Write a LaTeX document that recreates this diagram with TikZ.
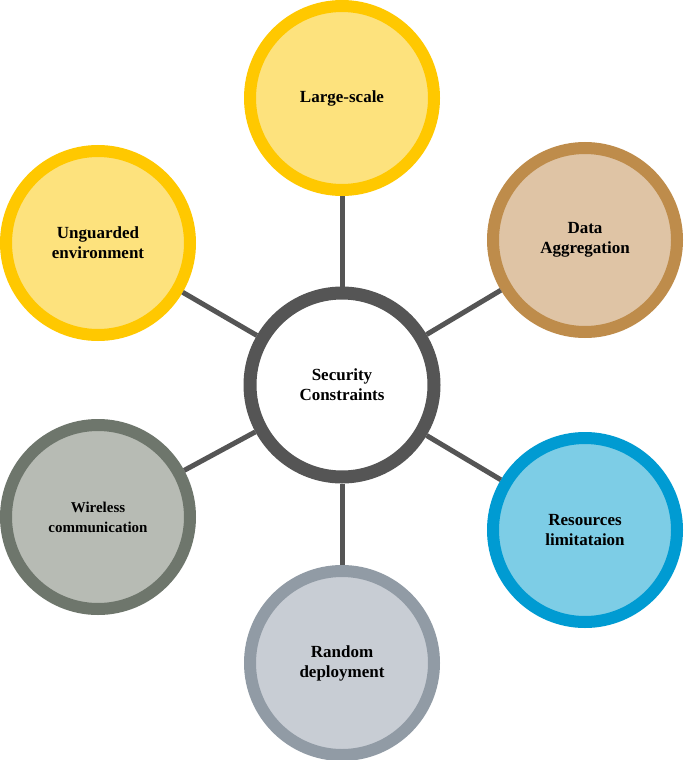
\documentclass[tikz,border=0pt]{standalone}
\usepackage{fontspec}
\setmainfont{Liberation Serif}
\begin{document}
\begin{tikzpicture}[x=1pt,y=-1pt,
  bub/.style={circle,minimum size=184pt,line width=12pt,inner sep=0pt,align=center,font=\bfseries\fontsize{17}{20}\selectfont},
  link/.style={line width=5pt,draw={rgb,255:red,85;green,85;blue,85}}]
\useasboundingbox (0,0) rectangle (685,760);
\definecolor{yf}{RGB}{253,226,125}\definecolor{yb}{RGB}{255,200,0}
\definecolor{tf}{RGB}{223,196,165}\definecolor{tb}{RGB}{190,140,75}
\definecolor{bf}{RGB}{125,205,230}\definecolor{bb}{RGB}{0,155,210}
\definecolor{gf}{RGB}{200,205,212}\definecolor{gb}{RGB}{145,155,165}
\definecolor{wf}{RGB}{183,187,180}\definecolor{wb}{RGB}{110,118,108}
\definecolor{cb}{RGB}{85,85,85}
\node[bub,draw=cb,fill=white,line width=13pt] (c) at (342,385) {Security\\Constraints};
\node[bub,draw=yb,fill=yf] (a) at (342,98) {Large-scale};
\node[bub,draw=tb,fill=tf] (b) at (585,240) {Data\\Aggregation};
\node[bub,draw=bb,fill=bf] (r) at (585,530) {Resources\\limitataion};
\node[bub,draw=gb,fill=gf] (d) at (342,663) {Random\\deployment};
\node[bub,draw=wb,fill=wf,font=\bfseries\fontsize{15}{20}\selectfont] (w) at (98,517) {Wireless\\communication};
\node[bub,draw=yb,fill=yf] (u) at (98,243) {Unguarded\\environment};
\foreach \n in {a,b,r,d,w,u} \draw[link] (c) -- (\n);
\end{tikzpicture}
\end{document}
